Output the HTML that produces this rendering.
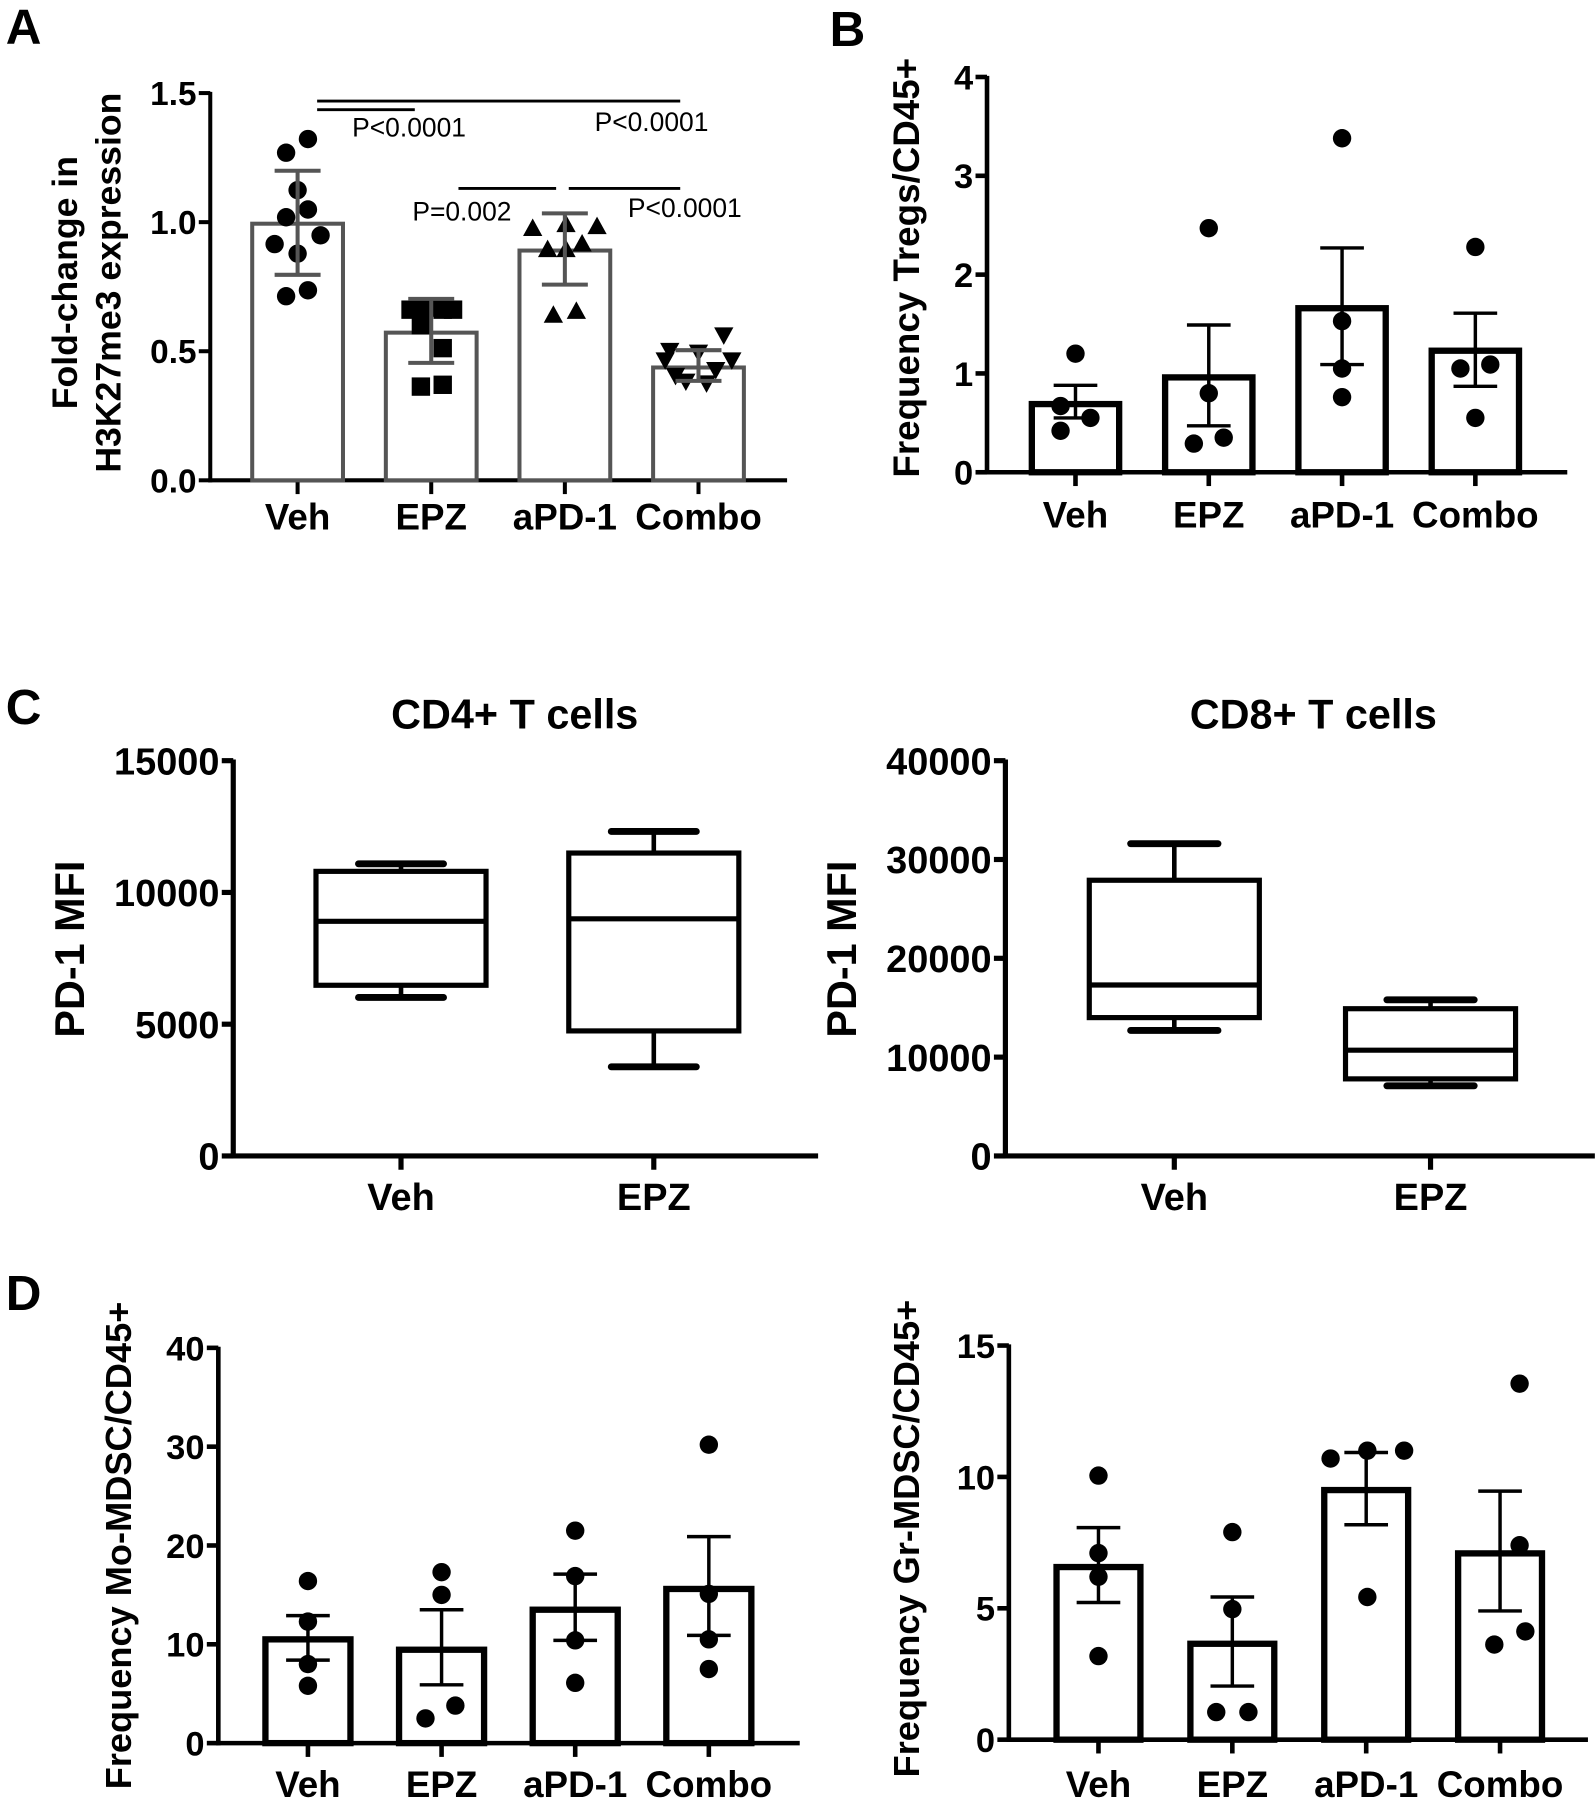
<!DOCTYPE html>
<html><head><meta charset="utf-8"><style>
html,body{margin:0;padding:0;background:#fff;}
svg{display:block;}
text{font-family:"Liberation Sans",Arial,sans-serif;}
</style></head><body>
<svg id="fig" width="1596" height="1800" viewBox="0 0 1389 1566.5" preserveAspectRatio="none" xmlns="http://www.w3.org/2000/svg"></svg>
<script>
// ---------- Panel A data ----------
const aCats = ["Veh","EPZ","aPD-1","Combo"];
const aMeans = [0.994,0.572,0.89,0.437];
const aErrLo = [0.796,0.455,0.758,0.385];
const aErrHi = [1.199,0.703,1.034,0.504];
const aPtsVeh = [1.322,1.269,1.124,1.049,1.019,0.949,0.915,0.878,0.736,0.713];
const aPtsEPZ = [0.661,0.661,0.669,0.661,0.661,0.601,0.512,0.363,0.370];
const aPtsPD1 = [0.975,0.99,0.982,0.893,0.893,0.915,0.639,0.654];
const aPtsCombo = [0.564,0.504,0.497,0.467,0.467,0.430,0.385,0.378,0.407];
const aTicks = [0,0.5,1.0,1.5];
const aTickLabels = ["0.0","0.5","1.0","1.5"];
// ---------- Panel B data ----------
const bCats = ["Veh","EPZ","aPD-1","Combo"];
const bMeans = [0.69,0.96,1.66,1.23];
const bErrLo = [0.55,0.47,1.09,0.87];
const bErrHi = [0.88,1.49,2.27,1.61];
const bPts = [[1.2,0.67,0.55,0.42],[2.47,0.8,0.29,0.35],[3.38,1.53,1.05,0.76],[2.28,1.05,1.09,0.55]];
const bTicks = [0,1,2,3,4];
const bTickLabels = ["0","1","2","3","4"];
// ---------- Panel C data ----------
const cCats = ["Veh","EPZ"];
const cd4Min = [6014,3382], cd4Q1 = [6477,4745], cd4Med = [8905,9000], cd4Q3 = [10800,11495], cd4Max = [11086,12314];
const cd8Min = [12700,7100], cd8Q1 = [14000,7800], cd8Med = [17300,10700], cd8Q3 = [27900,14900], cd8Max = [31600,15800];
const cd4Ticks = [0,5000,10000,15000];
const cd4TickLabels = ["0","5000","10000","15000"];
const cd8Ticks = [0,10000,20000,30000,40000];
const cd8TickLabels = ["0","10000","20000","30000","40000"];
// ---------- Panel D data ----------
const dCats = ["Veh","EPZ","aPD-1","Combo"];
const moMeans = [10.5,9.45,13.5,15.6];
const moErrLo = [8.4,5.9,10.4,10.9];
const moErrHi = [12.9,13.5,17.1,20.9];
const moPts = [[16.4,12.3,8.0,5.8],[17.3,15.0,3.8,2.5],[21.5,16.9,10.4,6.1],[30.2,15.1,10.5,7.5]];
const moTicks = [0,10,20,30,40];
const moTickLabels = ["0","10","20","30","40"];
const grMeans = [6.57,3.65,9.5,7.09];
const grErrLo = [5.22,2.04,8.18,4.9];
const grErrHi = [8.07,5.43,10.93,9.46];
const grPts = [[10.05,7.1,6.2,3.18],[7.9,4.97,1.05,1.05],[10.7,11.0,11.0,5.43],[13.55,7.4,4.12,3.62]];
const grTicks = [0,5,10,15];
const grTickLabels = ["0","5","10","15"];

const NS="http://www.w3.org/2000/svg";
const svg=document.getElementById('fig');
function mk(tag,attrs,parent){const e=document.createElementNS(NS,tag);for(const k in attrs)e.setAttribute(k,attrs[k]);(parent||svg).appendChild(e);return e;}
function txt(str,x,y,size,anchor,weight,parent,rot){const t=mk('text',{x:x,y:y,'font-size':size,'text-anchor':anchor||'middle','font-weight':weight||'bold',fill:'#000'},parent);if(rot)t.setAttribute('transform','rotate(-90 '+x+' '+y+')');t.textContent=str;return t;}
function lin(x1,y1,x2,y2,w,c,parent){return mk('line',{x1:x1,y1:y1,x2:x2,y2:y2,stroke:c||'#000','stroke-width':w},parent);}

function axes(g,cfg){
  const ys=v=>cfg.yBot-(v/cfg.max)*(cfg.yBot-cfg.yTop);
  const xs=i=>cfg.c0+i*cfg.step;
  const ax=lin(cfg.x0,cfg.yTop-1,cfg.x0,cfg.yBot+cfg.aw/2,cfg.aw,cfg.ac,g);
  
  
  const xa=lin(cfg.x0-cfg.aw/2,cfg.yBot,cfg.xEnd,cfg.yBot,cfg.aw,cfg.ac,g);
  
  
  cfg.ticks.forEach((t,i)=>{
    lin(cfg.x0-10,ys(t),cfg.x0,ys(t),cfg.aw,cfg.ac,g);
    const tl=txt(cfg.tickLabels[i],cfg.x0-12,ys(t)+cfg.tfs*0.36,cfg.tfs,'end','bold',g);
    
    
  });
  cfg.cats.forEach((c,i)=>{
    lin(xs(i),cfg.yBot,xs(i),cfg.yBot+12,cfg.aw,cfg.ac,g);
    const xl=txt(c,xs(i),cfg.xlY,cfg.xfs,'middle','bold',g);
    
    
  });
  return {ys,xs};
}

function barPanel(name,cfg,means,lo,hi,pts,jit,marker){
  const g=mk('g',{});
  
  
  const {ys,xs}=axes(g,cfg);
  means.forEach((m,i)=>{
    const r=mk('rect',{x:xs(i)-cfg.bw/2,y:ys(m),width:cfg.bw,height:cfg.yBot-ys(m),fill:'#fff',stroke:cfg.bc,'stroke-width':cfg.bsw},g);
    
    
  });
  pts.forEach((arr,i)=>{
    arr.forEach((v,j)=>{
      const x=xs(i)+jit[i][j], y=ys(v);
      let p;
      const mkr=marker[i];
      if(mkr==='circle') p=mk('circle',{cx:x,cy:y,r:cfg.pr,fill:'#000'},g);
      else if(mkr==='square') p=mk('rect',{x:x-cfg.pr,y:y-cfg.pr,width:cfg.pr*2,height:cfg.pr*2,fill:'#000'},g);
      else if(mkr==='up') p=mk('polygon',{points:(x)+','+(y-cfg.pr*1.1)+' '+(x-cfg.pr*1.05)+','+(y+cfg.pr*0.8)+' '+(x+cfg.pr*1.05)+','+(y+cfg.pr*0.8),fill:'#000'},g);
      else p=mk('polygon',{points:(x)+','+(y+cfg.pr*1.1)+' '+(x-cfg.pr*1.05)+','+(y-cfg.pr*0.8)+' '+(x+cfg.pr*1.05)+','+(y-cfg.pr*0.8),fill:'#000'},g);
      
      
    });
  });
  means.forEach((m,i)=>{
    const e=mk('g',{},g);
    
    
    lin(xs(i),ys(lo[i]),xs(i),ys(hi[i]),cfg.ew,cfg.ec,e);
    lin(xs(i)-cfg.cw/2,ys(lo[i]),xs(i)+cfg.cw/2,ys(lo[i]),cfg.ew,cfg.ec,e);
    lin(xs(i)-cfg.cw/2,ys(hi[i]),xs(i)+cfg.cw/2,ys(hi[i]),cfg.ew,cfg.ec,e);
  });
  return {g,ys,xs};
}

function boxPanel(name,cfg,mn,q1,md,q3,mx){
  const g=mk('g',{});
  
  
  const {ys,xs}=axes(g,cfg);
  md.forEach((m,i)=>{
    const b=mk('g',{},g);
    
    
    const x=xs(i);
    lin(x,ys(q3[i]),x,ys(mx[i]),4,'#000',b);
    lin(x,ys(q1[i]),x,ys(mn[i]),4,'#000',b);
    mk('line',{x1:x-cfg.cw/2,y1:ys(mx[i]),x2:x+cfg.cw/2,y2:ys(mx[i]),stroke:'#000','stroke-width':6,'stroke-linecap':'round'},b);
    mk('line',{x1:x-cfg.cw/2,y1:ys(mn[i]),x2:x+cfg.cw/2,y2:ys(mn[i]),stroke:'#000','stroke-width':6,'stroke-linecap':'round'},b);
    mk('rect',{x:x-cfg.bw/2,y:ys(q3[i]),width:cfg.bw,height:ys(q1[i])-ys(q3[i]),fill:'#fff',stroke:'#000','stroke-width':4.5},b);
    lin(x-cfg.bw/2,ys(md[i]),x+cfg.bw/2,ys(md[i]),4.5,'#000',b);
  });
  return g;
}

function panelLetter(l,x,y){const t=txt(l,x,y,43,'start','bold');}
function yTitle(s,x,y,size){const t=txt(s,x,y,size,'middle','bold',svg,true);}

// Panel A
barPanel('panel-a-chart',{cats:aCats,x0:183,xEnd:685,yTop:81,yBot:418,max:1.5,ticks:aTicks,tickLabels:aTickLabels,c0:259,step:116.3,bw:79,bc:'#555',bsw:3.5,aw:3.5,ac:'#000',tfs:29,xfs:32,xlY:461,pr:8,ew:3.5,ec:'#555',cw:40},
  aMeans,aErrLo,aErrHi,[aPtsVeh,aPtsEPZ,aPtsPD1,aPtsCombo],
  [[9,-10,0,9,-10,20,-20,0,9,-10],[-18,-8,1,10,19,-9,10,-9,10],[-28,1,28,-15,1,15,-10,10],[22,-25,0,29,-29,15,-11,7,-20]],
  ['circle','square','up','down']);
panelLetter('A',5,38);
yTitle('Fold-change in',67,246,31);
yTitle('H3K27me3 expression',105,246,31);
[[276,88,592],[276,95.5,361],[399,164,484],[495,164,592]].forEach(s=>{
  const l=lin(s[0],s[1],s[2],s[1],2.5,'#000');
  
  
});
[['P<0.0001',356,119],['P<0.0001',567,114],['P=0.002',402,192],['P<0.0001',596,189]].forEach(p=>{
  const t=txt(p[0],p[1],p[2],23,'middle','normal');
  
  
});

// Panel B
barPanel('panel-b-chart',{cats:bCats,x0:859,xEnd:1364,yTop:67,yBot:411,max:4,ticks:bTicks,tickLabels:bTickLabels,c0:936,step:116,bw:76,bc:'#000',bsw:5.5,aw:4,ac:'#000',tfs:30,xfs:32,xlY:459,pr:8,ew:3,ec:'#000',cw:38},
  bMeans,bErrLo,bErrHi,bPts,[[0,-13,13,-13],[0,0,-13,13],[0,0,0,0],[0,-13,13,0]],['circle','circle','circle','circle']);
panelLetter('B',722,40);
yTitle('Frequency Tregs/CD45+',800,233,32);

// Panel C
panelLetter('C',5,630);
const t4=txt('CD4+ T cells',448,634,36,'middle','bold');


const t8=txt('CD8+ T cells',1143,634,36,'middle','bold');


boxPanel('panel-c-cd4-chart',{cats:cCats,x0:203,xEnd:712,yTop:662,yBot:1006,max:15000,ticks:cd4Ticks,tickLabels:cd4TickLabels,c0:349,step:220,bw:148,cw:74,aw:4.5,ac:'#000',tfs:33,xfs:33,xlY:1053},cd4Min,cd4Q1,cd4Med,cd4Q3,cd4Max);
boxPanel('panel-c-cd8-chart',{cats:cCats,x0:875,xEnd:1388,yTop:662,yBot:1006,max:40000,ticks:cd8Ticks,tickLabels:cd8TickLabels,c0:1022,step:223,bw:148,cw:76,aw:4.5,ac:'#000',tfs:33,xfs:33,xlY:1053},cd8Min,cd8Q1,cd8Med,cd8Q3,cd8Max);
yTitle('PD-1 MFI',73,826,36);
yTitle('PD-1 MFI',745,826,36);

// Panel D
panelLetter('D',5,1140);
barPanel('panel-d-mo-mdsc-chart',{cats:dCats,x0:190,xEnd:696,yTop:1173,yBot:1517,max:40,ticks:moTicks,tickLabels:moTickLabels,c0:268,step:116.3,bw:74,bc:'#000',bsw:5.5,aw:4,ac:'#000',tfs:30,xfs:32,xlY:1564,pr:8,ew:3,ec:'#000',cw:38},
  moMeans,moErrLo,moErrHi,moPts,[[0,0,0,0],[0,0,12,-14],[0,0,0,0],[0,0,0,0]],['circle','circle','circle','circle']);
yTitle('Frequency Mo-MDSC/CD45+',114,1345,31.5);
barPanel('panel-d-gr-mdsc-chart',{cats:dCats,x0:878,xEnd:1382,yTop:1171,yBot:1514,max:15,ticks:grTicks,tickLabels:grTickLabels,c0:956,step:116.5,bw:73,bc:'#000',bsw:5.5,aw:4,ac:'#000',tfs:30,xfs:32,xlY:1564,pr:8,ew:3,ec:'#000',cw:38},
  grMeans,grErrLo,grErrHi,grPts,[[0,0,0,0],[0,0,-14,14],[-31,1,33,1],[17,17,22,-5]],['circle','circle','circle','circle']);
yTitle('Frequency Gr-MDSC/CD45+',800,1339,31.5);
</script>
</body></html>
